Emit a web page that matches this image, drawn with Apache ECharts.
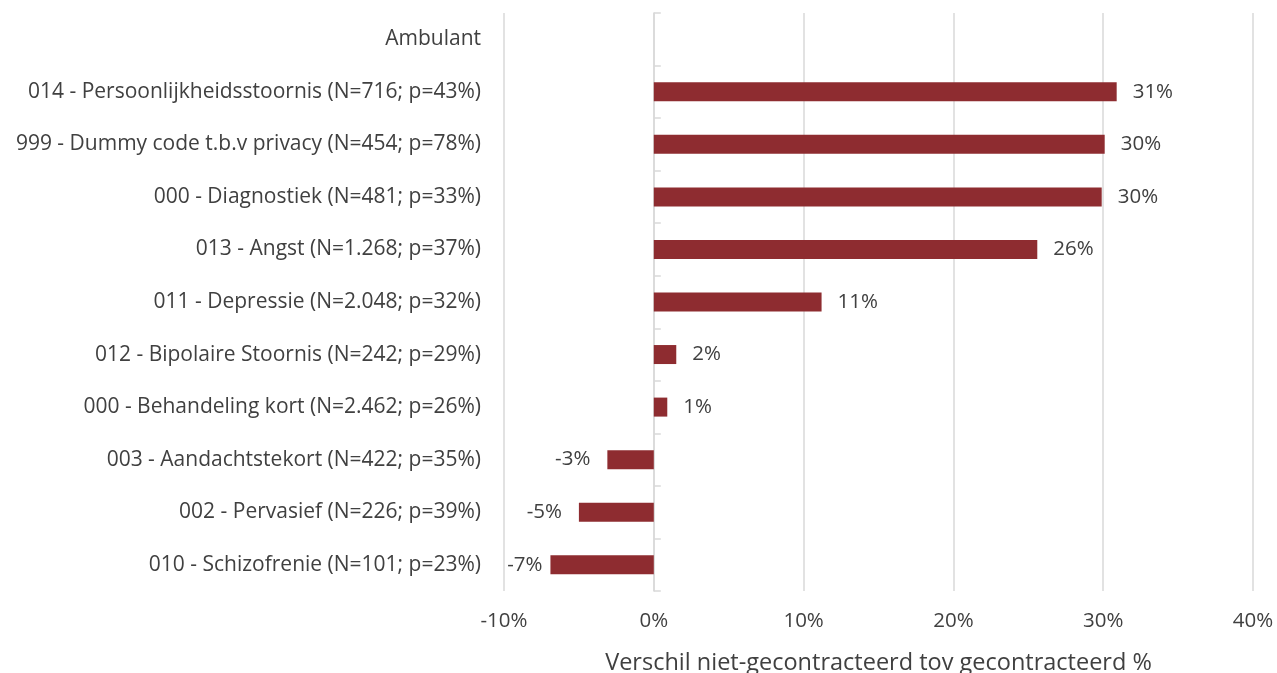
<!DOCTYPE html>
<html><head><meta charset="utf-8">
<script src="https://cdn.jsdelivr.net/npm/echarts@6/dist/echarts.min.js"></script>
<style>html,body{margin:0;padding:0;background:#fff}#c{width:1277px;height:673px}</style>
</head><body><div id="c"></div>
<script>
const categories = [
  "010 - Schizofrenie (N=101; p=23%)",
  "002 - Pervasief (N=226; p=39%)",
  "003 - Aandachtstekort (N=422; p=35%)",
  "000 - Behandeling kort (N=2.462; p=26%)",
  "012 - Bipolaire Stoornis (N=242; p=29%)",
  "011 - Depressie (N=2.048; p=32%)",
  "013 - Angst (N=1.268; p=37%)",
  "000 - Diagnostiek (N=481; p=33%)",
  "999 - Dummy code t.b.v privacy (N=454; p=78%)",
  "014 - Persoonlijkheidsstoornis (N=716; p=43%)",
  "Ambulant"
];
const values = [-6.9, -5.0, -3.1, 0.9, 1.5, 11.2, 25.6, 29.9, 30.1, 30.9, null];
const xTicks = [-10, 0, 10, 20, 30, 40];
const axisTitle = "Verschil niet-gecontracteerd tov gecontracteerd %";

const FONT = "'Open Sans', sans-serif";
const TXT = '#404040';
const GRID = '#d9d9d9';
const FS = 20.5;

const seriesData = values.map((v, i) => {
  const item = { value: v };
  if (v != null && v < 0) item.label = { position: 'left', distance: i === 0 ? 8 : 17 };
  return item;
});

const chart = echarts.init(document.getElementById('c'));
chart.setOption({
  animation: false,
  grid: { left: 504, right: 24, top: 13, bottom: 82, containLabel: false, outerBoundsMode: 'none' },
  xAxis: {
    type: 'value',
    min: xTicks[0], max: xTicks[xTicks.length - 1], interval: 10,
    axisLine: { show: false },
    axisTick: { show: false },
    splitLine: { lineStyle: { color: GRID, width: 1.5 } },
    axisLabel: { formatter: '{value}%', color: TXT, fontFamily: FONT, fontSize: FS, margin: 20 },
    name: axisTitle, nameLocation: 'middle', nameGap: 60,
    nameTextStyle: { color: TXT, fontFamily: FONT, fontSize: 23.5 }
  },
  yAxis: [{
    type: 'category', data: categories,
    axisLine: { show: false, onZero: false }, axisTick: { show: false },
    axisLabel: { color: TXT, fontFamily: FONT, fontSize: 21, margin: 23 }
  }, {
    type: 'category', data: categories, position: 'left',
    axisLine: { show: true, onZero: true, lineStyle: { color: GRID, width: 1.5 } },
    axisTick: { show: true, inside: true, length: 7, lineStyle: { color: GRID, width: 1.5 } },
    axisLabel: { show: false }
  }],
  series: [{
    type: 'bar', data: seriesData, yAxisIndex: 0,
    barWidth: 19,
    itemStyle: { color: '#8E2C30' },
    label: {
      show: true, position: 'right', distance: 16,
      color: TXT, fontFamily: FONT, fontSize: FS,
      formatter: p => Math.round(p.value) + '%'
    }
  }]
});
</script></body></html>
